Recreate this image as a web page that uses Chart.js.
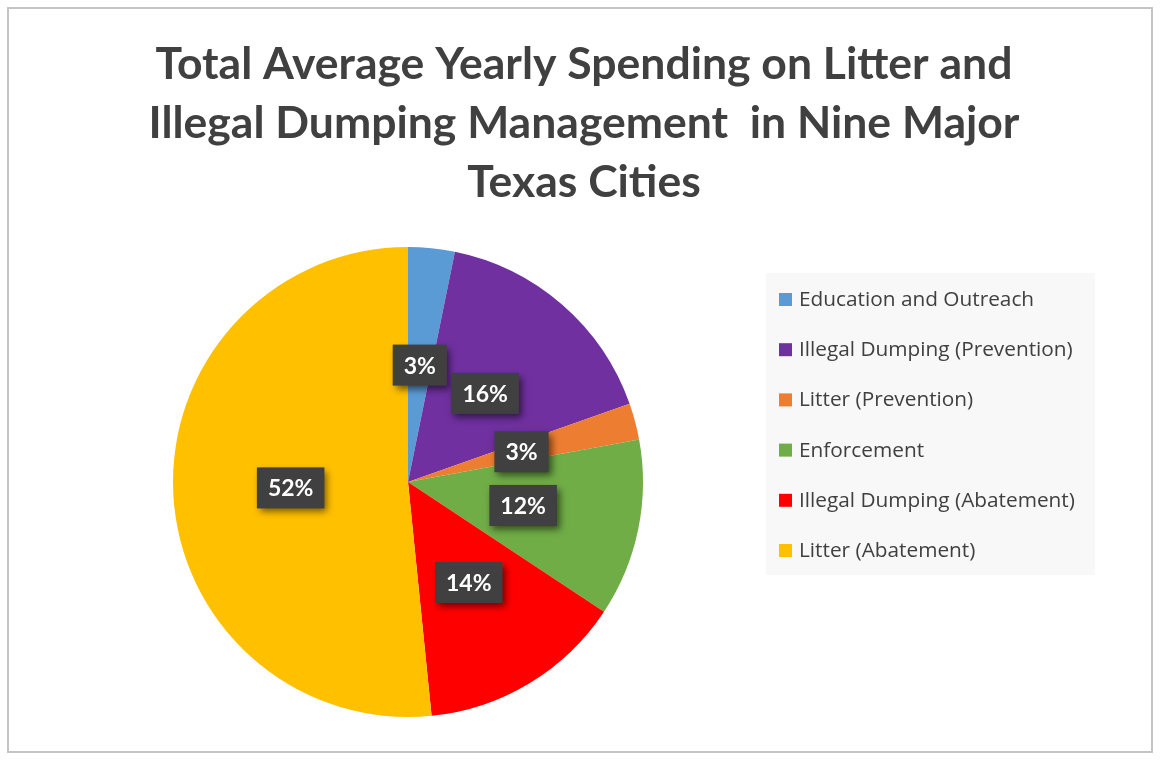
<!DOCTYPE html>
<html>
<head>
<meta charset="utf-8">
<script src="https://cdn.jsdelivr.net/npm/chart.js@4"></script>
<style>
  html, body { margin: 0; padding: 0; background: #ffffff; }
  #wrap { width: 1160px; height: 761px; position: relative; }
</style>
</head>
<body>
<div id="wrap"><canvas id="chart" width="1160" height="761"></canvas></div>
<script>
// data (share of spending, %)
const categories = [
    'Education and Outreach',
    'Illegal Dumping (Prevention)',
    'Litter (Prevention)',
    'Enforcement',
    'Illegal Dumping (Abatement)',
    'Litter (Abatement)'
];
const spending = [3.2, 16.4, 2.5, 12.2, 14.1, 51.6];
const sliceColors = ['#5B9BD5', '#7030A0', '#ED7D31', '#70AD47', '#FF0000', '#FFC000'];
const titleLines = [
    'Total Average Yearly Spending on Litter and',
    'Illegal Dumping Management  in Nine Major',
    'Texas Cities'
];

const FONT = 'Lato, "Open Sans", sans-serif';
const LEGEND_FONT = '"Open Sans", Lato, sans-serif';

// frame + title
const framePlugin = {
    id: 'frame',
    beforeDraw(chart) {
        const ctx = chart.ctx;
        ctx.save();
        ctx.fillStyle = '#ffffff';
        ctx.fillRect(0, 0, chart.width, chart.height);
        ctx.strokeStyle = '#c4c4c4';
        ctx.lineWidth = 2;
        ctx.strokeRect(8, 8, 1144, 744);

        ctx.fillStyle = '#404040';
        ctx.font = 'bold 44.5px ' + FONT;
        ctx.textAlign = 'center';
        ctx.textBaseline = 'middle';
        titleLines.forEach((line, i) => {
            ctx.fillText(line, 584, 65 + i * 59);
        });
        ctx.restore();
    }
};

// legend box at the right
const legendPlugin = {
    id: 'sideLegend',
    afterDraw(chart) {
        const ctx = chart.ctx;
        ctx.save();
        ctx.fillStyle = '#f8f8f8';
        ctx.fillRect(766, 273, 329, 302);
        ctx.font = '20.8px ' + LEGEND_FONT;
        ctx.textBaseline = 'middle';
        ctx.textAlign = 'left';
        chart.data.labels.forEach((label, i) => {
            const y = 300 + i * 50.2;
            ctx.fillStyle = chart.data.datasets[0].backgroundColor[i];
            ctx.fillRect(779, y - 7, 13, 13);
            ctx.fillStyle = '#404040';
            ctx.fillText(label, 799, y);
        });
        ctx.restore();
    }
};

// dark boxed percentage labels
const boxLabels = {
    id: 'boxLabels',
    afterDatasetsDraw(chart) {
        const ctx = chart.ctx;
        const ds = chart.data.datasets[0];
        const total = ds.data.reduce((a, b) => a + b, 0);
        const meta = chart.getDatasetMeta(0);
        ctx.save();
        ctx.font = 'bold 23px ' + FONT;
        ctx.textAlign = 'center';
        ctx.textBaseline = 'middle';
        meta.data.forEach((arc, i) => {
            const pos = arc.tooltipPosition();
            const txt = Math.round(ds.data[i] / total * 100) + '%';
            const w = ctx.measureText(txt).width + 22;
            const h = 41;
            ctx.save();
            ctx.shadowColor = 'rgba(0,0,0,0.55)';
            ctx.shadowBlur = 7;
            ctx.shadowOffsetX = 3;
            ctx.shadowOffsetY = 4;
            ctx.fillStyle = '#404040';
            ctx.fillRect(pos.x - w / 2, pos.y - h / 2, w, h);
            ctx.restore();
            ctx.fillStyle = '#ffffff';
            ctx.fillText(txt, pos.x, pos.y + 1);
        });
        ctx.restore();
    }
};

new Chart(document.getElementById('chart'), {
    type: 'pie',
    data: {
        labels: categories,
        datasets: [{
            data: spending,
            backgroundColor: sliceColors,
            borderWidth: 0
        }]
    },
    options: {
        responsive: false,
        animation: false,
        layout: {
            padding: { left: 173, top: 247, right: 517, bottom: 44 }
        },
        plugins: {
            legend: { display: false },
            title: { display: false },
            tooltip: { enabled: false }
        }
    },
    plugins: [framePlugin, boxLabels, legendPlugin]
});
</script>
</body>
</html>
